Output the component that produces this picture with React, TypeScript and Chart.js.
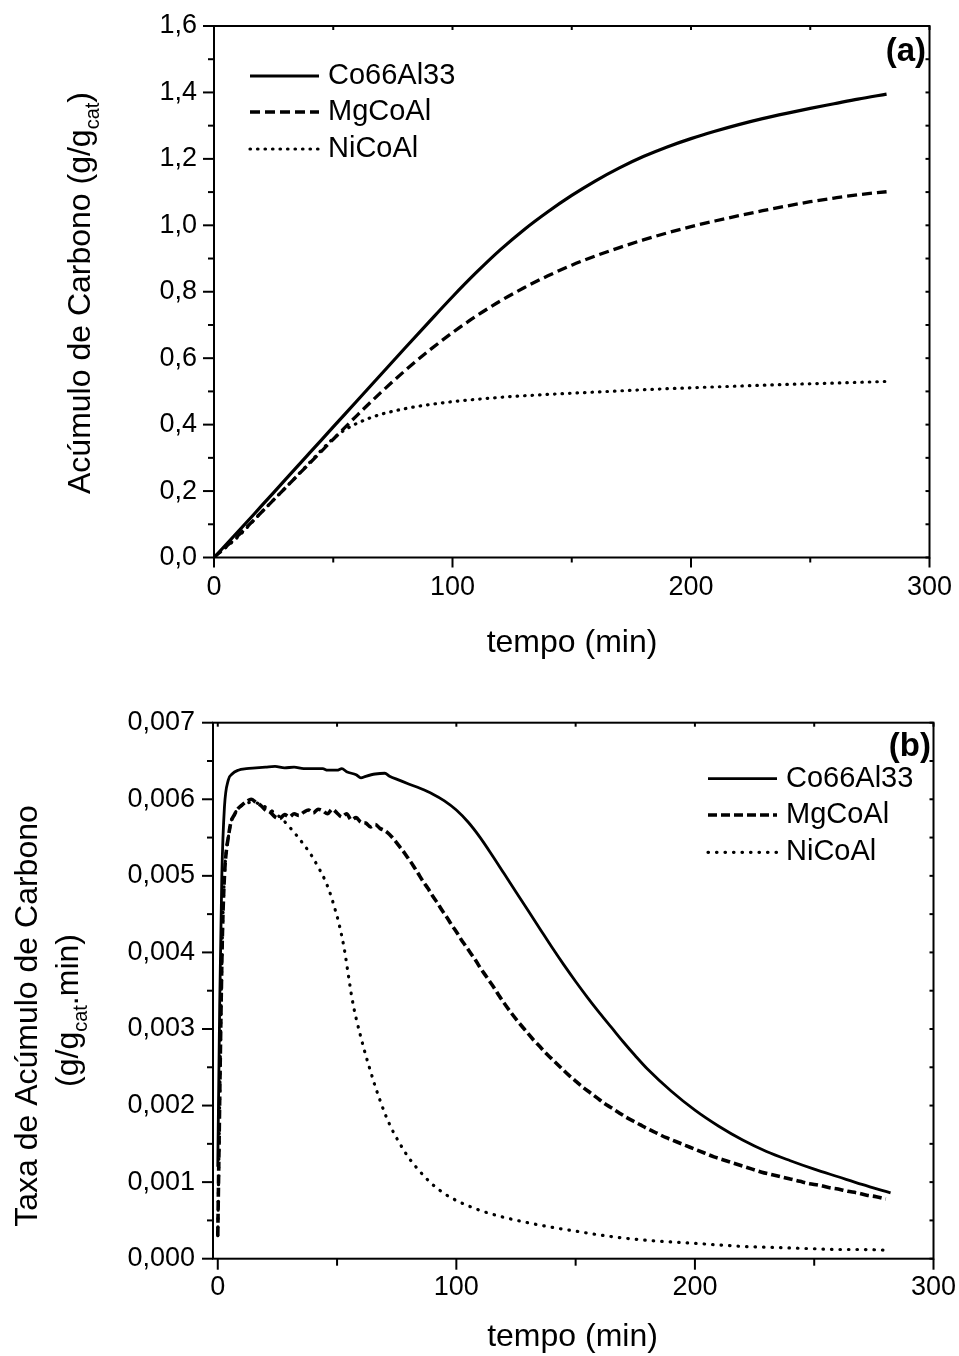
import React, { useEffect, useRef } from "react";
import { Chart, registerables } from "chart.js";

Chart.register(...registerables);

const FONT = '"Liberation Sans", Arial, Helvetica, sans-serif';

// ---------------- Series names ----------------
const seriesNames = ["Co66Al33", "MgCoAl", "NiCoAl"];

// ---------------- Panel (a): carbon accumulation (g/gcat) ----------------
const accTimeCo = [0, 10, 20, 30, 40, 50, 60, 70, 80, 90, 100, 110, 120, 130, 140, 150, 160, 170, 180, 190, 200, 210, 220, 230, 240, 250, 260, 270, 282];
const accCo = [0, 0.077, 0.156, 0.235, 0.314, 0.393, 0.472, 0.551, 0.63, 0.708, 0.785, 0.858, 0.926, 0.987, 1.041, 1.09, 1.134, 1.173, 1.207, 1.236, 1.261, 1.283, 1.303, 1.321, 1.337, 1.352, 1.366, 1.38, 1.395];

const accTimeMg = [0, 10, 20, 30, 40, 50, 60, 70, 80, 90, 100, 110, 120, 130, 140, 150, 160, 170, 180, 190, 200, 210, 220, 230, 240, 250, 260, 270, 282];
const accMg = [0, 0.065, 0.137, 0.21, 0.283, 0.356, 0.428, 0.497, 0.562, 0.622, 0.677, 0.727, 0.772, 0.812, 0.848, 0.88, 0.908, 0.933, 0.956, 0.977, 0.996, 1.013, 1.029, 1.044, 1.058, 1.071, 1.082, 1.092, 1.101];

const accTimeNi = [0, 10, 20, 30, 40, 45, 50, 55, 60, 65, 70, 80, 90, 100, 120, 140, 160, 180, 200, 220, 240, 260, 282];
const accNi = [0, 0.062, 0.137, 0.21, 0.285, 0.323, 0.358, 0.385, 0.404, 0.419, 0.431, 0.448, 0.46, 0.469, 0.482, 0.491, 0.498, 0.505, 0.511, 0.516, 0.521, 0.525, 0.53];

const accXTicks = [0, 100, 200, 300];
const accXMinor = [50, 150, 250];
const accYTicks = [0, 0.2, 0.4, 0.6, 0.8, 1.0, 1.2, 1.4, 1.6];
const accYMinor = [0.1, 0.3, 0.5, 0.7, 0.9, 1.1, 1.3, 1.5];

// ---------------- Panel (b): carbon accumulation rate (g/gcat.min) ----------------
const rateTimeCo = [0, 0.8, 1.7, 2.8, 4.4, 6, 8.6, 12, 16, 20, 24, 28, 32, 36, 40, 44, 46, 50, 52, 54, 58, 60, 62, 66, 70, 72, 76, 80, 85, 90, 95, 100, 105, 110, 115, 120, 125, 130, 135, 140, 145, 150, 155, 160, 165, 170, 175, 180, 190, 200, 210, 220, 230, 240, 250, 260, 270, 282];
const rateCo = [0.0012, 0.0033, 0.005, 0.0059, 0.00625, 0.00633, 0.00638, 0.0064, 0.00641, 0.00642, 0.00643, 0.00641, 0.00642, 0.0064, 0.0064, 0.0064, 0.00638, 0.00638, 0.0064, 0.00636, 0.00632, 0.00628, 0.0063, 0.00633, 0.00634, 0.0063, 0.00625, 0.0062, 0.00614, 0.00607, 0.00598, 0.00586, 0.0057, 0.0055, 0.00527, 0.00503, 0.00479, 0.00455, 0.00431, 0.00407, 0.00384, 0.00362, 0.00341, 0.00321, 0.00302, 0.00283, 0.00265, 0.00248, 0.00219, 0.00194, 0.00173, 0.00155, 0.0014, 0.00128, 0.00117, 0.00107, 0.00097, 0.00086];

const rateTimeMg = [0, 0.5, 1, 1.5, 2, 2.8, 3.5, 4.4, 5.5, 7, 8, 10, 12, 14, 16, 18, 20, 22, 24, 26, 28, 30, 32, 34, 36, 38, 40, 42, 44, 46, 48, 50, 52, 54, 56, 58, 60, 62, 64, 66, 68, 70, 72, 74, 76, 78, 80, 82, 84, 86, 88, 90, 92, 94, 96, 98, 100, 102, 104, 106, 108, 110, 112, 114, 116, 118, 120, 123, 126, 129, 132, 135, 138, 141, 144, 147, 150, 153, 156, 159, 162, 165, 168, 171, 174, 177, 180, 184, 188, 192, 196, 200, 204, 208, 212, 216, 220, 224, 228, 232, 236, 240, 244, 248, 252, 256, 260, 264, 268, 272, 276, 280];
const rateMg = [0.0003, 0.0014, 0.0025, 0.0035, 0.0043, 0.005, 0.0053, 0.0055, 0.0057, 0.0058, 0.00586, 0.00592, 0.00597, 0.006, 0.00596, 0.00592, 0.00586, 0.00583, 0.00577, 0.00575, 0.0058, 0.00577, 0.00581, 0.00579, 0.00583, 0.00586, 0.00582, 0.00587, 0.00585, 0.00581, 0.00587, 0.00582, 0.00577, 0.00581, 0.00573, 0.00576, 0.0057, 0.00569, 0.00564, 0.00567, 0.00562, 0.00559, 0.00554, 0.00547, 0.00539, 0.00531, 0.00522, 0.00513, 0.00503, 0.00493, 0.00484, 0.00474, 0.00465, 0.00455, 0.00446, 0.00436, 0.00427, 0.00417, 0.00408, 0.00399, 0.0039, 0.0038, 0.00371, 0.00362, 0.00353, 0.00343, 0.00334, 0.00321, 0.00309, 0.00298, 0.00287, 0.00277, 0.00267, 0.00258, 0.00249, 0.0024, 0.00232, 0.00224, 0.00217, 0.0021, 0.00203, 0.00197, 0.00191, 0.00185, 0.0018, 0.00175, 0.0017, 0.00164, 0.00158, 0.00153, 0.00148, 0.00143, 0.00138, 0.00133, 0.00129, 0.00125, 0.00121, 0.00117, 0.00113, 0.0011, 0.00107, 0.00104, 0.00101, 0.00098, 0.00096, 0.00093, 0.00091, 0.00088, 0.00086, 0.00083, 0.00081, 0.00078];

const rateTimeNi = [0, 0.5, 1, 1.5, 2, 2.8, 3.5, 4.4, 5.5, 7, 8, 10, 12, 15, 18, 21, 24, 27, 30, 33, 36, 39, 42, 45, 47, 49, 51, 53, 55, 56, 57, 58, 60, 62, 64, 66, 68, 70, 73, 76, 80, 85, 90, 95, 100, 105, 110, 120, 130, 140, 150, 160, 170, 180, 190, 200, 210, 220, 230, 240, 250, 260, 270, 282];
const rateNi = [0.0003, 0.0014, 0.0025, 0.0035, 0.0043, 0.005, 0.0053, 0.0055, 0.0057, 0.0058, 0.00586, 0.00592, 0.00595, 0.00596, 0.00593, 0.00588, 0.00582, 0.00574, 0.00564, 0.00553, 0.00541, 0.00528, 0.00512, 0.00494, 0.00478, 0.00458, 0.00435, 0.00405, 0.00365, 0.00345, 0.00328, 0.00314, 0.00289, 0.00266, 0.00245, 0.00225, 0.00207, 0.0019, 0.00169, 0.00152, 0.00132, 0.00113, 0.00097, 0.00085, 0.00076, 0.00069, 0.00063, 0.00054, 0.00047, 0.00041, 0.00036, 0.00031, 0.00027, 0.00024, 0.00022, 0.0002, 0.00018, 0.00016, 0.00015, 0.00014, 0.00013, 0.00012, 0.00012, 0.00011];

const rateXTicks = [0, 100, 200, 300];
const rateXMinor = [50, 150, 250];
const rateYTicks = [0, 0.001, 0.002, 0.003, 0.004, 0.005, 0.006, 0.007];
const rateYMinor = [0.0005, 0.0015, 0.0025, 0.0035, 0.0045, 0.0055, 0.0065];

// ---------------- helpers ----------------
const pts = (xs: number[], ys: number[]) => xs.map((x, i) => ({ x, y: ys[i] }));
const comma = (v: number, d: number) => v.toFixed(d).replace(".", ",");

type Part = { t: string; sub?: boolean };
type PanelCfg = {
  xMajor: number[];
  xMinor: number[];
  yMajor: number[];
  yMinor: number[];
  xMajorLen: number;
  xMinorLen: number;
  yMajorLen: number;
  yMinorLen: number;
  mirrorLen: number;
  legend: { x1: number; x2: number; textX: number; rows: number[]; size: number };
  tag: { text: string; right: number; y: number };
  yTitle: { parts: Part[]; baseX: number; centerY: number }[];
  xTitle: { text: string; x: number; y: number };
};

const TITLE_SIZE = 32;
const SUB_SIZE = 20;

function drawRotated(ctx: CanvasRenderingContext2D, parts: Part[], baseX: number, centerY: number) {
  ctx.save();
  ctx.translate(baseX, centerY);
  ctx.rotate(-Math.PI / 2);
  ctx.textBaseline = "alphabetic";
  ctx.textAlign = "left";
  ctx.fillStyle = "#000";
  const widths = parts.map((p) => {
    ctx.font = `${p.sub ? SUB_SIZE : TITLE_SIZE}px ${FONT}`;
    return ctx.measureText(p.t).width;
  });
  const total = widths.reduce((a, b) => a + b, 0);
  let x = -total / 2;
  parts.forEach((p, i) => {
    ctx.font = `${p.sub ? SUB_SIZE : TITLE_SIZE}px ${FONT}`;
    ctx.fillText(p.t, x, p.sub ? 9 : 0);
    x += widths[i];
  });
  ctx.restore();
}

function makeDecor(cfg: PanelCfg) {
  return {
    id: "decor",
    afterDatasetsDraw(chart: any) {
      const ctx: CanvasRenderingContext2D = chart.ctx;
      const { left, right, top, bottom } = chart.chartArea;
      const xs = chart.scales.x;
      const ys = chart.scales.y;
      ctx.save();
      ctx.strokeStyle = "#000";
      ctx.fillStyle = "#000";
      ctx.lineWidth = 2;
      ctx.setLineDash([]);
      ctx.lineCap = "butt";
      ctx.strokeRect(left, top, right - left, bottom - top);
      const seg = (x1: number, y1: number, x2: number, y2: number) => {
        ctx.beginPath();
        ctx.moveTo(x1, y1);
        ctx.lineTo(x2, y2);
        ctx.stroke();
      };
      cfg.xMajor.forEach((v) => {
        const p = xs.getPixelForValue(v);
        seg(p, bottom, p, bottom + cfg.xMajorLen);
        seg(p, top, p, top + cfg.mirrorLen);
      });
      cfg.xMinor.forEach((v) => {
        const p = xs.getPixelForValue(v);
        seg(p, bottom, p, bottom + cfg.xMinorLen);
        seg(p, top, p, top + cfg.mirrorLen);
      });
      cfg.yMajor.forEach((v) => {
        const p = ys.getPixelForValue(v);
        seg(left, p, left - cfg.yMajorLen, p);
        seg(right, p, right - cfg.mirrorLen, p);
      });
      cfg.yMinor.forEach((v) => {
        const p = ys.getPixelForValue(v);
        seg(left, p, left - cfg.yMinorLen, p);
        seg(right, p, right - cfg.mirrorLen, p);
      });

      // legend
      const lg = cfg.legend;
      chart.data.datasets.forEach((ds: any, i: number) => {
        ctx.save();
        ctx.setLineDash(ds.borderDash || []);
        ctx.lineWidth = ds.borderWidth;
        ctx.lineCap = ds.borderCapStyle || "butt";
        seg(lg.x1, lg.rows[i], lg.x2, lg.rows[i]);
        ctx.restore();
        ctx.font = `${lg.size}px ${FONT}`;
        ctx.textBaseline = "middle";
        ctx.textAlign = "left";
        ctx.fillText(ds.label, lg.textX, lg.rows[i]);
      });

      // panel tag
      ctx.font = `bold 33px ${FONT}`;
      ctx.textAlign = "right";
      ctx.textBaseline = "middle";
      ctx.fillText(cfg.tag.text, cfg.tag.right, cfg.tag.y);

      // x title
      ctx.font = `${TITLE_SIZE}px ${FONT}`;
      ctx.textAlign = "center";
      ctx.textBaseline = "middle";
      ctx.fillText(cfg.xTitle.text, cfg.xTitle.x, cfg.xTitle.y);

      // y title
      cfg.yTitle.forEach((l) => drawRotated(ctx, l.parts, l.baseX, l.centerY));
      ctx.restore();
    },
  };
}

function buildChart(
  canvas: HTMLCanvasElement,
  datasets: any[],
  xRange: [number, number],
  yRange: [number, number],
  xTicks: number[],
  yTicks: number[],
  yDigits: number,
  layout: { top: number; right: number; yWidth: number; xHeight: number; yPad: number; xPad: number },
  cfg: PanelCfg
) {
  return new Chart(canvas, {
    type: "line",
    data: { datasets },
    options: {
      animation: false,
      responsive: false,
      maintainAspectRatio: false,
      devicePixelRatio: 1,
      layout: { padding: { top: layout.top, right: layout.right, left: 0, bottom: 0 } },
      elements: { point: { radius: 0 }, line: { cubicInterpolationMode: "monotone" } },
      plugins: { legend: { display: false }, tooltip: { enabled: false } },
      scales: {
        x: {
          type: "linear",
          min: xRange[0],
          max: xRange[1],
          grid: { display: false, drawTicks: false },
          border: { display: false },
          afterBuildTicks: (s: any) => {
            s.ticks = xTicks.map((v) => ({ value: v }));
          },
          afterFit: (s: any) => {
            s.height = layout.xHeight;
            s.paddingLeft = 0;
            s.paddingRight = 0;
          },
          ticks: {
            color: "#000",
            font: { family: FONT, size: 27 },
            padding: layout.xPad,
            maxRotation: 0,
            autoSkip: false,
            callback: (v: any) => String(v),
          },
        },
        y: {
          type: "linear",
          min: yRange[0],
          max: yRange[1],
          grid: { display: false, drawTicks: false },
          border: { display: false },
          afterBuildTicks: (s: any) => {
            s.ticks = yTicks.map((v) => ({ value: v }));
          },
          afterFit: (s: any) => {
            s.width = layout.yWidth;
            s.paddingTop = 0;
            s.paddingBottom = 0;
          },
          ticks: {
            color: "#000",
            font: { family: FONT, size: 27 },
            padding: layout.yPad,
            autoSkip: false,
            callback: (v: any) => comma(Number(v), yDigits),
          },
        },
      },
    } as any,
    plugins: [makeDecor(cfg)],
  });
}

export default function App() {
  const refA = useRef<HTMLCanvasElement>(null);
  const refB = useRef<HTMLCanvasElement>(null);

  useEffect(() => {
    const base = { borderColor: "#000", fill: false };
    const chartA = buildChart(
      refA.current!,
      [
        { ...base, label: seriesNames[0], data: pts(accTimeCo, accCo), borderWidth: 3.2 },
        { ...base, label: seriesNames[1], data: pts(accTimeMg, accMg), borderWidth: 3.3, borderDash: [10, 5] },
        { ...base, label: seriesNames[2], data: pts(accTimeNi, accNi), borderWidth: 3.2, borderDash: [0.5, 7], borderCapStyle: "round" },
      ],
      [0, 300],
      [0, 1.6],
      accXTicks,
      accYTicks,
      1,
      { top: 26, right: 29.5, yWidth: 214, xHeight: 680 - 557.5, yPad: 17, xPad: 14 },
      {
        xMajor: accXTicks,
        xMinor: accXMinor,
        yMajor: accYTicks,
        yMinor: accYMinor,
        xMajorLen: 10,
        xMinorLen: 5,
        yMajorLen: 11,
        yMinorLen: 6,
        mirrorLen: 4,
        legend: { x1: 250, x2: 319, textX: 328, rows: [76, 112, 149], size: 29 },
        tag: { text: "(a)", right: 926, y: 52 },
        xTitle: { text: "tempo (min)", x: 572, y: 643 },
        yTitle: [
          {
            parts: [{ t: "Acúmulo de Carbono (g/g" }, { t: "cat", sub: true }, { t: ")" }],
            baseX: 90,
            centerY: 293,
          },
        ],
      }
    );

    const chartB = buildChart(
      refB.current!,
      [
        { ...base, label: seriesNames[0], data: pts(rateTimeCo, rateCo), borderWidth: 2.8 },
        { ...base, label: seriesNames[1], data: pts(rateTimeMg, rateMg), borderWidth: 3.6, borderDash: [9, 4] },
        { ...base, label: seriesNames[2], data: pts(rateTimeNi, rateNi), borderWidth: 3.2, borderDash: [0.5, 8], borderCapStyle: "round" },
      ],
      [-2, 300],
      [0, 0.007],
      rateXTicks,
      rateYTicks,
      3,
      { top: 42.7, right: 25.5, yWidth: 213, xHeight: 676 - 578.7, yPad: 18, xPad: 13 },
      {
        xMajor: rateXTicks,
        xMinor: rateXMinor,
        yMajor: rateYTicks,
        yMinor: rateYMinor,
        xMajorLen: 11,
        xMinorLen: 7,
        yMajorLen: 11,
        yMinorLen: 6,
        mirrorLen: 4,
        legend: { x1: 708, x2: 777, textX: 786, rows: [98.7, 135, 172.3], size: 29 },
        tag: { text: "(b)", right: 931, y: 66.7 },
        xTitle: { text: "tempo (min)", x: 572.5, y: 656.7 },
        yTitle: [
          { parts: [{ t: "Taxa de Acúmulo de Carbono" }], baseX: 36.7, centerY: 336 },
          {
            parts: [{ t: "(g/g" }, { t: "cat", sub: true }, { t: ".min)" }],
            baseX: 78,
            centerY: 330.5,
          },
        ],
      }
    );

    return () => {
      chartA.destroy();
      chartB.destroy();
    };
  }, []);

  return (
    <div style={{ position: "absolute", left: 0, top: 0, width: 959, height: 1356, background: "#fff" }}>
      <canvas ref={refA} width={959} height={680} style={{ display: "block", width: 959, height: 680 }} />
      <canvas ref={refB} width={959} height={676} style={{ display: "block", width: 959, height: 676 }} />
    </div>
  );
}
